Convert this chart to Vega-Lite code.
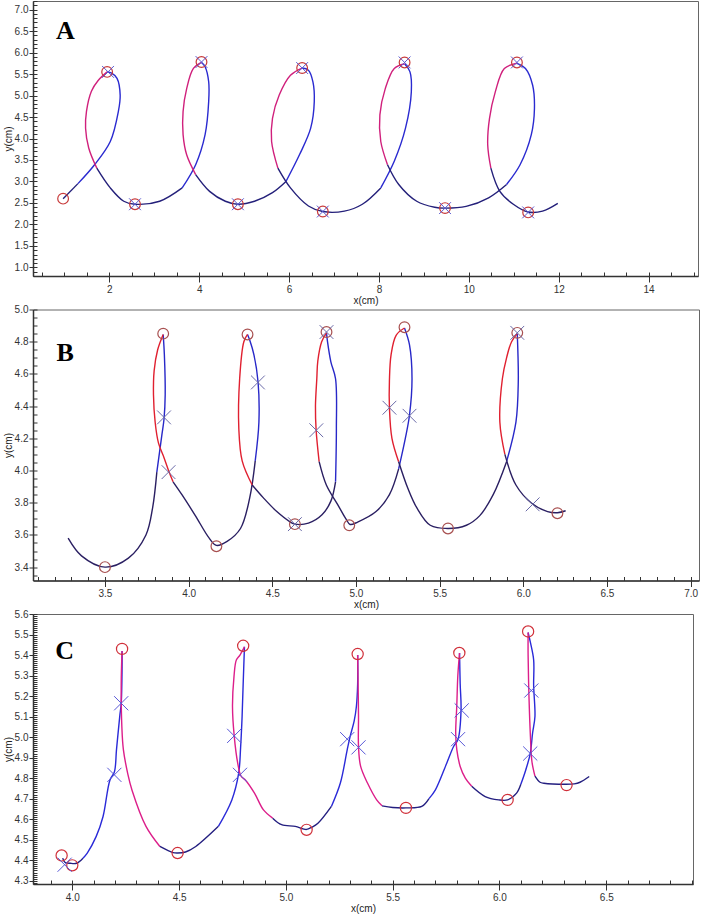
{
"$schema": "https://vega.github.io/schema/vega-lite/v6.json",
"background": "white",
"padding": {"left": 2, "top": 0, "right": 5, "bottom": 2},
"bounds": "flush",
"spacing": 33.5,
"resolve": {"scale": {"color": "independent"}},
"config": {
 "view": {"stroke": "#666", "strokeWidth": 1},
 "axis": {"labelFont": "Liberation Sans", "labelFontSize": 10, "labelColor": "#333", "titleFont": "Liberation Sans", "titleFontSize": 10, "titleFontWeight": "normal", "titleColor": "#222", "domainColor": "#333", "domainWidth": 1.5, "tickColor": "#333", "tickWidth": 1, "grid": false, "labelOverlap": false, "labelBound": false, "labelFlush": false}
},
"datasets": {
 "a_line": [
  {"s":1,"c":"low","o":1,"x":0.97,"y":2.6},{"s":1,"c":"low","o":2,"x":1.3,"y":2.95},
  {"s":2,"c":"up","o":2,"x":1.3,"y":2.95},{"s":2,"c":"up","o":3,"x":1.67,"y":3.39},{"s":2,"c":"up","o":4,"x":2.02,"y":3.93},{"s":2,"c":"up","o":5,"x":2.2,"y":4.63},{"s":2,"c":"up","o":6,"x":2.24,"y":5.01},{"s":2,"c":"up","o":7,"x":2.17,"y":5.4},{"s":2,"c":"up","o":8,"x":2.05,"y":5.52},{"s":2,"c":"up","o":9,"x":1.95,"y":5.55},
  {"s":3,"c":"down","o":9,"x":1.95,"y":5.55},{"s":3,"c":"down","o":10,"x":1.75,"y":5.35},{"s":3,"c":"down","o":11,"x":1.6,"y":5.1},{"s":3,"c":"down","o":12,"x":1.49,"y":4.63},{"s":3,"c":"down","o":13,"x":1.47,"y":4.24},{"s":3,"c":"down","o":14,"x":1.54,"y":3.78},{"s":3,"c":"down","o":15,"x":1.72,"y":3.31},
  {"s":4,"c":"low","o":15,"x":1.72,"y":3.31},{"s":4,"c":"low","o":16,"x":2.02,"y":2.85},{"s":4,"c":"low","o":17,"x":2.32,"y":2.54},{"s":4,"c":"low","o":18,"x":2.57,"y":2.47},{"s":4,"c":"low","o":19,"x":3.12,"y":2.54},{"s":4,"c":"low","o":20,"x":3.62,"y":2.85},
  {"s":5,"c":"up","o":20,"x":3.62,"y":2.85},{"s":5,"c":"up","o":21,"x":3.92,"y":3.39},{"s":5,"c":"up","o":22,"x":4.13,"y":4.09},{"s":5,"c":"up","o":23,"x":4.21,"y":4.86},{"s":5,"c":"up","o":24,"x":4.21,"y":5.32},{"s":5,"c":"up","o":25,"x":4.13,"y":5.67},{"s":5,"c":"up","o":26,"x":4.05,"y":5.77},
  {"s":6,"c":"down","o":26,"x":4.05,"y":5.77},{"s":6,"c":"down","o":27,"x":3.87,"y":5.63},{"s":6,"c":"down","o":28,"x":3.72,"y":5.16},{"s":6,"c":"down","o":29,"x":3.64,"y":4.63},{"s":6,"c":"down","o":30,"x":3.64,"y":4.09},{"s":6,"c":"down","o":31,"x":3.72,"y":3.62},{"s":6,"c":"down","o":32,"x":3.92,"y":3.16},
  {"s":7,"c":"low","o":32,"x":3.92,"y":3.16},{"s":7,"c":"low","o":33,"x":4.23,"y":2.77},{"s":7,"c":"low","o":34,"x":4.58,"y":2.54},{"s":7,"c":"low","o":35,"x":4.86,"y":2.47},{"s":7,"c":"low","o":36,"x":5.23,"y":2.54},{"s":7,"c":"low","o":37,"x":5.63,"y":2.74},{"s":7,"c":"low","o":38,"x":5.93,"y":3.0},
  {"s":8,"c":"up","o":38,"x":5.93,"y":3.0},{"s":8,"c":"up","o":39,"x":6.23,"y":3.62},{"s":8,"c":"up","o":40,"x":6.48,"y":4.24},{"s":8,"c":"up","o":41,"x":6.56,"y":4.86},{"s":8,"c":"up","o":42,"x":6.53,"y":5.32},{"s":8,"c":"up","o":43,"x":6.43,"y":5.59},{"s":8,"c":"up","o":44,"x":6.29,"y":5.64},
  {"s":9,"c":"down","o":44,"x":6.29,"y":5.64},{"s":9,"c":"down","o":45,"x":6.03,"y":5.47},{"s":9,"c":"down","o":46,"x":5.78,"y":5.01},{"s":9,"c":"down","o":47,"x":5.63,"y":4.47},{"s":9,"c":"down","o":48,"x":5.61,"y":3.93},{"s":9,"c":"down","o":49,"x":5.75,"y":3.31},
  {"s":10,"c":"low","o":49,"x":5.75,"y":3.31},{"s":10,"c":"low","o":50,"x":6.03,"y":2.85},{"s":10,"c":"low","o":51,"x":6.43,"y":2.43},{"s":10,"c":"low","o":52,"x":6.75,"y":2.3},{"s":10,"c":"low","o":53,"x":7.23,"y":2.31},{"s":10,"c":"low","o":54,"x":7.63,"y":2.47},{"s":10,"c":"low","o":55,"x":8.04,"y":2.85},
  {"s":11,"c":"up","o":55,"x":8.04,"y":2.85},{"s":11,"c":"up","o":56,"x":8.34,"y":3.47},{"s":11,"c":"up","o":57,"x":8.59,"y":4.24},{"s":11,"c":"up","o":58,"x":8.72,"y":5.09},{"s":11,"c":"up","o":59,"x":8.69,"y":5.55},{"s":11,"c":"up","o":60,"x":8.57,"y":5.74},
  {"s":12,"c":"down","o":60,"x":8.57,"y":5.74},{"s":12,"c":"down","o":61,"x":8.34,"y":5.63},{"s":12,"c":"down","o":62,"x":8.14,"y":5.16},{"s":12,"c":"down","o":63,"x":8.02,"y":4.55},{"s":12,"c":"down","o":64,"x":8.04,"y":3.93},{"s":12,"c":"down","o":65,"x":8.19,"y":3.39},
  {"s":13,"c":"low","o":65,"x":8.19,"y":3.39},{"s":13,"c":"low","o":66,"x":8.44,"y":2.93},{"s":13,"c":"low","o":67,"x":8.84,"y":2.54},{"s":13,"c":"low","o":68,"x":9.24,"y":2.4},{"s":13,"c":"low","o":69,"x":9.47,"y":2.38},{"s":13,"c":"low","o":70,"x":9.94,"y":2.42},{"s":13,"c":"low","o":71,"x":10.44,"y":2.62},{"s":13,"c":"low","o":72,"x":10.84,"y":2.93},
  {"s":14,"c":"up","o":72,"x":10.84,"y":2.93},{"s":14,"c":"up","o":73,"x":11.14,"y":3.39},{"s":14,"c":"up","o":74,"x":11.39,"y":4.09},{"s":14,"c":"up","o":75,"x":11.46,"y":4.7},{"s":14,"c":"up","o":76,"x":11.42,"y":5.24},{"s":14,"c":"up","o":77,"x":11.26,"y":5.63},{"s":14,"c":"up","o":78,"x":11.07,"y":5.75},
  {"s":15,"c":"down","o":78,"x":11.07,"y":5.75},{"s":15,"c":"down","o":79,"x":10.79,"y":5.63},{"s":15,"c":"down","o":80,"x":10.59,"y":5.09},{"s":15,"c":"down","o":81,"x":10.46,"y":4.47},{"s":15,"c":"down","o":82,"x":10.42,"y":3.85},{"s":15,"c":"down","o":83,"x":10.49,"y":3.31},
  {"s":16,"c":"low","o":83,"x":10.49,"y":3.31},{"s":16,"c":"low","o":84,"x":10.69,"y":2.77},{"s":16,"c":"low","o":85,"x":10.99,"y":2.47},{"s":16,"c":"low","o":86,"x":11.32,"y":2.29},{"s":16,"c":"low","o":87,"x":11.64,"y":2.31},{"s":16,"c":"low","o":88,"x":11.98,"y":2.49}
 ],
 "a_circ": [{"x":0.97,"y":2.6},{"x":1.95,"y":5.55},{"x":2.57,"y":2.47},{"x":4.05,"y":5.78},{"x":4.86,"y":2.47},{"x":6.29,"y":5.64},{"x":6.75,"y":2.3},{"x":8.57,"y":5.77},{"x":9.47,"y":2.38},{"x":11.07,"y":5.77},{"x":11.32,"y":2.28}],
 "a_x": [{"x":1.97,"y":5.55},{"x":2.57,"y":2.47},{"x":4.05,"y":5.78},{"x":4.86,"y":2.47},{"x":6.29,"y":5.64},{"x":6.75,"y":2.3},{"x":8.57,"y":5.77},{"x":9.47,"y":2.38},{"x":11.07,"y":5.77},{"x":11.32,"y":2.28}],
 "a_lab": [{"t":"A","x":1.02,"y":6.5}],
 "b_line": [
  {"s":1,"c":"low","o":1,"x":3.28,"y":3.58},{"s":1,"c":"low","o":2,"x":3.36,"y":3.47},{"s":1,"c":"low","o":3,"x":3.5,"y":3.4},{"s":1,"c":"low","o":4,"x":3.64,"y":3.456},{"s":1,"c":"low","o":5,"x":3.745,"y":3.6},{"s":1,"c":"low","o":6,"x":3.785,"y":3.77},{"s":1,"c":"low","o":7,"x":3.81,"y":3.99},
  {"s":2,"c":"up","o":7,"x":3.81,"y":3.99},{"s":2,"c":"up","o":8,"x":3.84,"y":4.22},{"s":2,"c":"up","o":9,"x":3.853,"y":4.32},{"s":2,"c":"up","o":10,"x":3.86,"y":4.47},{"s":2,"c":"up","o":11,"x":3.855,"y":4.72},{"s":2,"c":"up","o":12,"x":3.848,"y":4.845},
  {"s":3,"c":"down","o":12,"x":3.848,"y":4.845},{"s":3,"c":"down","o":13,"x":3.815,"y":4.75},{"s":3,"c":"down","o":14,"x":3.794,"y":4.62},{"s":3,"c":"down","o":15,"x":3.79,"y":4.47},{"s":3,"c":"down","o":16,"x":3.8,"y":4.3},{"s":3,"c":"down","o":17,"x":3.82,"y":4.17},{"s":3,"c":"down","o":18,"x":3.853,"y":4.08},{"s":3,"c":"down","o":19,"x":3.88,"y":4.0},{"s":3,"c":"down","o":20,"x":3.907,"y":3.93},
  {"s":4,"c":"low","o":20,"x":3.907,"y":3.93},{"s":4,"c":"low","o":21,"x":3.96,"y":3.85},{"s":4,"c":"low","o":22,"x":4.04,"y":3.72},{"s":4,"c":"low","o":23,"x":4.123,"y":3.58},{"s":4,"c":"low","o":24,"x":4.166,"y":3.535},{"s":4,"c":"low","o":25,"x":4.23,"y":3.56},{"s":4,"c":"low","o":26,"x":4.31,"y":3.64},{"s":4,"c":"low","o":27,"x":4.365,"y":3.83},{"s":4,"c":"low","o":28,"x":4.398,"y":4.06},
  {"s":5,"c":"up","o":28,"x":4.398,"y":4.06},{"s":5,"c":"up","o":29,"x":4.42,"y":4.3},{"s":5,"c":"up","o":30,"x":4.415,"y":4.55},{"s":5,"c":"up","o":31,"x":4.39,"y":4.72},{"s":5,"c":"up","o":32,"x":4.365,"y":4.81},{"s":5,"c":"up","o":33,"x":4.352,"y":4.845},
  {"s":6,"c":"down","o":33,"x":4.352,"y":4.845},{"s":6,"c":"down","o":34,"x":4.33,"y":4.8},{"s":6,"c":"down","o":35,"x":4.305,"y":4.57},{"s":6,"c":"down","o":36,"x":4.3,"y":4.26},{"s":6,"c":"down","o":37,"x":4.32,"y":4.06},{"s":6,"c":"down","o":38,"x":4.38,"y":3.91},
  {"s":7,"c":"low","o":38,"x":4.38,"y":3.91},{"s":7,"c":"low","o":39,"x":4.447,"y":3.83},{"s":7,"c":"low","o":40,"x":4.527,"y":3.745},{"s":7,"c":"low","o":41,"x":4.608,"y":3.68},{"s":7,"c":"low","o":42,"x":4.635,"y":3.667},{"s":7,"c":"low","o":43,"x":4.716,"y":3.673},{"s":7,"c":"low","o":44,"x":4.797,"y":3.725},{"s":7,"c":"low","o":45,"x":4.85,"y":3.81},{"s":7,"c":"low","o":46,"x":4.878,"y":3.93},
  {"s":8,"c":"up","o":46,"x":4.878,"y":3.93},{"s":8,"c":"up","o":47,"x":4.883,"y":4.26},{"s":8,"c":"up","o":48,"x":4.878,"y":4.57},{"s":8,"c":"up","o":49,"x":4.85,"y":4.675},{"s":8,"c":"up","o":50,"x":4.83,"y":4.8},{"s":8,"c":"up","o":51,"x":4.824,"y":4.855},
  {"s":9,"c":"down","o":51,"x":4.824,"y":4.855},{"s":9,"c":"down","o":52,"x":4.795,"y":4.8},{"s":9,"c":"down","o":53,"x":4.772,"y":4.68},{"s":9,"c":"down","o":54,"x":4.766,"y":4.57},{"s":9,"c":"down","o":55,"x":4.758,"y":4.4},{"s":9,"c":"down","o":56,"x":4.762,"y":4.25},{"s":9,"c":"down","o":57,"x":4.78,"y":4.055},
  {"s":10,"c":"low","o":57,"x":4.78,"y":4.055},{"s":10,"c":"low","o":58,"x":4.823,"y":3.91},{"s":10,"c":"low","o":59,"x":4.89,"y":3.79},{"s":10,"c":"low","o":60,"x":4.94,"y":3.7},{"s":10,"c":"low","o":61,"x":4.965,"y":3.665},{"s":10,"c":"low","o":62,"x":5.01,"y":3.68},{"s":10,"c":"low","o":63,"x":5.12,"y":3.745},{"s":10,"c":"low","o":64,"x":5.2,"y":3.85},{"s":10,"c":"low","o":65,"x":5.255,"y":4.01},
  {"s":11,"c":"up","o":65,"x":5.255,"y":4.01},{"s":11,"c":"up","o":66,"x":5.295,"y":4.2},{"s":11,"c":"up","o":67,"x":5.32,"y":4.345},{"s":11,"c":"up","o":68,"x":5.335,"y":4.57},{"s":11,"c":"up","o":69,"x":5.32,"y":4.78},{"s":11,"c":"up","o":70,"x":5.29,"y":4.885},
  {"s":12,"c":"down","o":70,"x":5.29,"y":4.885},{"s":12,"c":"down","o":71,"x":5.24,"y":4.84},{"s":12,"c":"down","o":72,"x":5.21,"y":4.72},{"s":12,"c":"down","o":73,"x":5.2,"y":4.56},{"s":12,"c":"down","o":74,"x":5.2,"y":4.39},{"s":12,"c":"down","o":75,"x":5.215,"y":4.2},{"s":12,"c":"down","o":76,"x":5.255,"y":4.055},
  {"s":13,"c":"low","o":76,"x":5.255,"y":4.055},{"s":13,"c":"low","o":77,"x":5.31,"y":3.89},{"s":13,"c":"low","o":78,"x":5.365,"y":3.766},{"s":13,"c":"low","o":79,"x":5.444,"y":3.66},{"s":13,"c":"low","o":80,"x":5.55,"y":3.64},{"s":13,"c":"low","o":81,"x":5.66,"y":3.66},{"s":13,"c":"low","o":82,"x":5.74,"y":3.72},{"s":13,"c":"low","o":83,"x":5.82,"y":3.85},{"s":13,"c":"low","o":84,"x":5.9,"y":4.055},
  {"s":14,"c":"up","o":84,"x":5.9,"y":4.055},{"s":14,"c":"up","o":85,"x":5.956,"y":4.3},{"s":14,"c":"up","o":86,"x":5.97,"y":4.55},{"s":14,"c":"up","o":87,"x":5.964,"y":4.85},
  {"s":15,"c":"down","o":87,"x":5.964,"y":4.85},{"s":15,"c":"down","o":88,"x":5.93,"y":4.8},{"s":15,"c":"down","o":89,"x":5.9,"y":4.7},{"s":15,"c":"down","o":90,"x":5.875,"y":4.57},{"s":15,"c":"down","o":91,"x":5.86,"y":4.3},{"s":15,"c":"down","o":92,"x":5.89,"y":4.1},
  {"s":16,"c":"low","o":92,"x":5.89,"y":4.1},{"s":16,"c":"low","o":93,"x":5.956,"y":3.91},{"s":16,"c":"low","o":94,"x":6.05,"y":3.797},{"s":16,"c":"low","o":95,"x":6.145,"y":3.745},{"s":16,"c":"low","o":96,"x":6.204,"y":3.738},{"s":16,"c":"low","o":97,"x":6.253,"y":3.75}
 ],
 "b_circ": [{"x":3.5,"y":3.4},{"x":3.848,"y":4.85},{"x":4.166,"y":3.53},{"x":4.352,"y":4.845},{"x":4.635,"y":3.667},{"x":4.824,"y":4.86},{"x":4.96,"y":3.66},{"x":5.29,"y":4.89},{"x":5.55,"y":3.64},{"x":5.964,"y":4.855},{"x":6.204,"y":3.735}],
 "b_x": [{"x":3.853,"y":4.33},{"x":3.88,"y":3.99},{"x":4.414,"y":4.547},{"x":4.635,"y":3.667},{"x":4.824,"y":4.86},{"x":4.763,"y":4.25},{"x":5.2,"y":4.39},{"x":5.32,"y":4.34},{"x":5.964,"y":4.855},{"x":6.056,"y":3.79}],
 "b_lab": [{"t":"B","x":3.263,"y":4.73}],
 "c_line": [
  {"s":1,"c":"low","o":1,"x":3.955,"y":4.41},{"s":1,"c":"low","o":2,"x":3.965,"y":4.39},{"s":1,"c":"low","o":3,"x":3.99,"y":4.385},{"s":1,"c":"low","o":4,"x":4.02,"y":4.385},{"s":1,"c":"low","o":5,"x":4.05,"y":4.41},
  {"s":2,"c":"up","o":5,"x":4.05,"y":4.41},{"s":2,"c":"up","o":6,"x":4.07,"y":4.435},{"s":2,"c":"up","o":7,"x":4.112,"y":4.516},{"s":2,"c":"up","o":8,"x":4.144,"y":4.613},{"s":2,"c":"up","o":9,"x":4.176,"y":4.79},{"s":2,"c":"up","o":10,"x":4.197,"y":4.83},{"s":2,"c":"up","o":11,"x":4.207,"y":4.94},{"s":2,"c":"up","o":12,"x":4.222,"y":5.1},{"s":2,"c":"up","o":13,"x":4.229,"y":5.165},{"s":2,"c":"up","o":14,"x":4.233,"y":5.344},{"s":2,"c":"up","o":15,"x":4.233,"y":5.42},
  {"s":3,"c":"down","o":15,"x":4.233,"y":5.42},{"s":3,"c":"down","o":16,"x":4.229,"y":5.26},{"s":3,"c":"down","o":17,"x":4.232,"y":5.05},{"s":3,"c":"down","o":18,"x":4.239,"y":4.94},{"s":3,"c":"down","o":19,"x":4.26,"y":4.82},{"s":3,"c":"down","o":20,"x":4.28,"y":4.74},{"s":3,"c":"down","o":21,"x":4.345,"y":4.565},{"s":3,"c":"down","o":22,"x":4.41,"y":4.467},
  {"s":4,"c":"low","o":22,"x":4.41,"y":4.467},{"s":4,"c":"low","o":23,"x":4.472,"y":4.437},{"s":4,"c":"low","o":24,"x":4.493,"y":4.435},{"s":4,"c":"low","o":25,"x":4.53,"y":4.44},{"s":4,"c":"low","o":26,"x":4.578,"y":4.467},{"s":4,"c":"low","o":27,"x":4.684,"y":4.565},
  {"s":5,"c":"up","o":27,"x":4.684,"y":4.565},{"s":5,"c":"up","o":28,"x":4.747,"y":4.694},{"s":5,"c":"up","o":29,"x":4.779,"y":4.824},{"s":5,"c":"up","o":30,"x":4.788,"y":4.95},{"s":5,"c":"up","o":31,"x":4.795,"y":5.1},{"s":5,"c":"up","o":32,"x":4.8,"y":5.26},{"s":5,"c":"up","o":33,"x":4.806,"y":5.44},
  {"s":6,"c":"down","o":33,"x":4.806,"y":5.44},{"s":6,"c":"down","o":34,"x":4.785,"y":5.4},{"s":6,"c":"down","o":35,"x":4.768,"y":5.376},{"s":6,"c":"down","o":36,"x":4.757,"y":5.295},{"s":6,"c":"down","o":37,"x":4.75,"y":5.149},{"s":6,"c":"down","o":38,"x":4.758,"y":5.006},{"s":6,"c":"down","o":39,"x":4.775,"y":4.87},{"s":6,"c":"down","o":40,"x":4.79,"y":4.81},{"s":6,"c":"down","o":41,"x":4.811,"y":4.79},{"s":6,"c":"down","o":42,"x":4.853,"y":4.727},{"s":6,"c":"down","o":43,"x":4.895,"y":4.645},{"s":6,"c":"down","o":44,"x":4.938,"y":4.605},
  {"s":7,"c":"low","o":44,"x":4.938,"y":4.605},{"s":7,"c":"low","o":45,"x":4.98,"y":4.573},{"s":7,"c":"low","o":46,"x":5.044,"y":4.565},{"s":7,"c":"low","o":47,"x":5.08,"y":4.553},{"s":7,"c":"low","o":48,"x":5.097,"y":4.55},{"s":7,"c":"low","o":49,"x":5.12,"y":4.56},{"s":7,"c":"low","o":50,"x":5.15,"y":4.58},{"s":7,"c":"low","o":51,"x":5.213,"y":4.662},
  {"s":8,"c":"up","o":51,"x":5.213,"y":4.662},{"s":8,"c":"up","o":52,"x":5.255,"y":4.776},{"s":8,"c":"up","o":53,"x":5.287,"y":4.938},{"s":8,"c":"up","o":54,"x":5.3,"y":5.0},{"s":8,"c":"up","o":55,"x":5.32,"y":5.08},{"s":8,"c":"up","o":56,"x":5.33,"y":5.149},{"s":8,"c":"up","o":57,"x":5.336,"y":5.26},{"s":8,"c":"up","o":58,"x":5.336,"y":5.4},
  {"s":9,"c":"down","o":58,"x":5.336,"y":5.4},{"s":9,"c":"down","o":59,"x":5.338,"y":5.26},{"s":9,"c":"down","o":60,"x":5.34,"y":5.1},{"s":9,"c":"down","o":61,"x":5.34,"y":4.954},{"s":9,"c":"down","o":62,"x":5.35,"y":4.857},{"s":9,"c":"down","o":63,"x":5.382,"y":4.776},{"s":9,"c":"down","o":64,"x":5.425,"y":4.694},{"s":9,"c":"down","o":65,"x":5.45,"y":4.665},
  {"s":10,"c":"low","o":65,"x":5.45,"y":4.665},{"s":10,"c":"low","o":66,"x":5.5,"y":4.657},{"s":10,"c":"low","o":67,"x":5.562,"y":4.655},{"s":10,"c":"low","o":68,"x":5.636,"y":4.662},{"s":10,"c":"low","o":69,"x":5.67,"y":4.7},
  {"s":11,"c":"up","o":69,"x":5.67,"y":4.7},{"s":11,"c":"up","o":70,"x":5.7,"y":4.743},{"s":11,"c":"up","o":71,"x":5.753,"y":4.873},{"s":11,"c":"up","o":72,"x":5.785,"y":4.954},{"s":11,"c":"up","o":73,"x":5.806,"y":4.99},{"s":11,"c":"up","o":74,"x":5.82,"y":5.13},{"s":11,"c":"up","o":75,"x":5.816,"y":5.26},{"s":11,"c":"up","o":76,"x":5.813,"y":5.41},
  {"s":12,"c":"down","o":76,"x":5.813,"y":5.41},{"s":12,"c":"down","o":77,"x":5.805,"y":5.3},{"s":12,"c":"down","o":78,"x":5.8,"y":5.15},{"s":12,"c":"down","o":79,"x":5.795,"y":5.02},{"s":12,"c":"down","o":80,"x":5.8,"y":4.94},{"s":12,"c":"down","o":81,"x":5.816,"y":4.857},{"s":12,"c":"down","o":82,"x":5.84,"y":4.8},{"s":12,"c":"down","o":83,"x":5.87,"y":4.76},
  {"s":13,"c":"low","o":83,"x":5.87,"y":4.76},{"s":13,"c":"low","o":84,"x":5.933,"y":4.71},{"s":13,"c":"low","o":85,"x":5.996,"y":4.694},{"s":13,"c":"low","o":86,"x":6.038,"y":4.694},{"s":13,"c":"low","o":87,"x":6.08,"y":4.727},{"s":13,"c":"low","o":88,"x":6.1,"y":4.77},
  {"s":14,"c":"up","o":88,"x":6.1,"y":4.77},{"s":14,"c":"up","o":89,"x":6.123,"y":4.84},{"s":14,"c":"up","o":90,"x":6.144,"y":4.92},{"s":14,"c":"up","o":91,"x":6.155,"y":5.02},{"s":14,"c":"up","o":92,"x":6.166,"y":5.1},{"s":14,"c":"up","o":93,"x":6.16,"y":5.25},{"s":14,"c":"up","o":94,"x":6.16,"y":5.376},{"s":14,"c":"up","o":95,"x":6.145,"y":5.46},{"s":14,"c":"up","o":96,"x":6.134,"y":5.51},
  {"s":15,"c":"down","o":96,"x":6.134,"y":5.51},{"s":15,"c":"down","o":97,"x":6.134,"y":5.4},{"s":15,"c":"down","o":98,"x":6.138,"y":5.2},{"s":15,"c":"down","o":99,"x":6.145,"y":5.0},{"s":15,"c":"down","o":100,"x":6.152,"y":4.88},{"s":15,"c":"down","o":101,"x":6.166,"y":4.81},
  {"s":16,"c":"low","o":101,"x":6.166,"y":4.81},{"s":16,"c":"low","o":102,"x":6.19,"y":4.78},{"s":16,"c":"low","o":103,"x":6.208,"y":4.775},{"s":16,"c":"low","o":104,"x":6.31,"y":4.77},{"s":16,"c":"low","o":105,"x":6.35,"y":4.772},{"s":16,"c":"low","o":106,"x":6.377,"y":4.78},{"s":16,"c":"low","o":107,"x":6.42,"y":4.808}
 ],
 "c_circ": [{"x":3.95,"y":4.423},{"x":4.0,"y":4.375},{"x":4.233,"y":5.43},{"x":4.493,"y":4.435},{"x":4.8,"y":5.445},{"x":5.097,"y":4.548},{"x":5.336,"y":5.405},{"x":5.562,"y":4.655},{"x":5.812,"y":5.41},{"x":6.038,"y":4.694},{"x":6.134,"y":5.515},{"x":6.314,"y":4.766}],
 "c_x": [{"x":3.964,"y":4.378},{"x":4.197,"y":4.816},{"x":4.229,"y":5.165},{"x":4.758,"y":5.006},{"x":4.785,"y":4.816},{"x":5.287,"y":4.99},{"x":5.34,"y":4.95},{"x":5.806,"y":4.99},{"x":5.823,"y":5.13},{"x":6.149,"y":5.227},{"x":6.144,"y":4.92}],
 "c_lab": [{"t":"C","x":3.964,"y":5.42}]
},
"vconcat": [
 {
  "width": 665, "height": 275,
  "resolve": {"axis": {"x": "independent", "y": "independent"}},
  "layer": [
   {"data": {"name": "a_line"}, "mark": {"type": "line", "interpolate": "catmull-rom", "strokeWidth": 1.4},
    "encoding": {
     "x": {"field": "x", "type": "quantitative", "scale": {"domain": [0.3, 15.1], "nice": false, "zero": false}, "axis": {"orient": "bottom", "values": [2,4,6,8,10,12,14], "format": "d", "tickSize": 6, "labelPadding": 2, "title": "x(cm)", "titlePadding": 1}},
     "y": {"field": "y", "type": "quantitative", "scale": {"domain": [0.8, 7.2], "nice": false, "zero": false}, "axis": {"orient": "left", "values": [1,1.5,2,2.5,3,3.5,4,4.5,5,5.5,6,6.5,7], "format": ".1f", "tickSize": 4, "labelPadding": 1, "title": "y(cm)", "titleX": -25, "titleBaseline": "middle"}},
     "detail": {"field": "s"},
     "order": {"field": "o", "type": "quantitative"},
     "color": {"field": "c", "type": "nominal", "scale": {"domain": ["up","down","low"], "range": ["#2a2ad0","#d0207c","#24207a"]}, "legend": null}
    }},
   {"data": {"name": "a_circ"}, "mark": {"type": "point", "shape": "circle", "filled": false, "size": 115, "strokeWidth": 1.2, "color": "#c83a3a", "opacity": 1},
    "encoding": {
     "x": {"field": "x", "type": "quantitative", "axis": {"orient": "bottom", "offset": -4, "tickCount": 30, "tickSize": 4, "labels": false, "domain": false, "title": null}},
     "y": {"field": "y", "type": "quantitative", "axis": {"orient": "left", "offset": -4, "tickCount": 64, "tickSize": 4, "labels": false, "domain": false, "title": null}}
    }},
   {"data": {"name": "a_x"}, "mark": {"type": "point", "shape": "M-1,-1L1,1M-1,1L1,-1", "filled": false, "size": 140, "strokeWidth": 1, "color": "#5a5ad0", "opacity": 1},
    "encoding": {
     "x": {"field": "x", "type": "quantitative", "axis": null},
     "y": {"field": "y", "type": "quantitative", "axis": null}
    }},
   {"data": {"name": "a_lab"}, "mark": {"type": "text", "font": "Liberation Serif", "fontWeight": "bold", "fontSize": 26, "color": "#000", "baseline": "middle", "align": "center"},
    "encoding": {
     "x": {"field": "x", "type": "quantitative", "axis": null},
     "y": {"field": "y", "type": "quantitative", "axis": null},
     "text": {"field": "t"}
    }}
  ]
 },
 {
  "width": 666, "height": 271,
  "resolve": {"axis": {"x": "independent", "y": "independent"}},
  "layer": [
   {"data": {"name": "b_line"}, "mark": {"type": "line", "interpolate": "catmull-rom", "strokeWidth": 1.4},
    "encoding": {
     "x": {"field": "x", "type": "quantitative", "scale": {"domain": [3.07, 7.05], "nice": false, "zero": false}, "axis": {"orient": "bottom", "values": [3.5,4,4.5,5,5.5,6,6.5,7], "format": ".1f", "tickSize": 6, "labelPadding": 2, "title": "x(cm)", "titlePadding": 1}},
     "y": {"field": "y", "type": "quantitative", "scale": {"domain": [3.317, 5.0], "nice": false, "zero": false}, "axis": {"orient": "left", "values": [3.4,3.6,3.8,4.0,4.2,4.4,4.6,4.8,5.0], "format": ".1f", "tickSize": 4, "labelPadding": 1, "title": "y(cm)", "titleX": -25, "titleBaseline": "middle"}},
     "detail": {"field": "s"},
     "order": {"field": "o", "type": "quantitative"},
     "color": {"field": "c", "type": "nominal", "scale": {"domain": ["up","down","low"], "range": ["#2828c8","#e02030","#2a1f62"]}, "legend": null}
    }},
   {"data": {"name": "b_circ"}, "mark": {"type": "point", "shape": "circle", "filled": false, "size": 115, "strokeWidth": 1.2, "color": "#a85050", "opacity": 1},
    "encoding": {
     "x": {"field": "x", "type": "quantitative", "axis": {"orient": "bottom", "offset": -4, "tickCount": 40, "tickSize": 4, "labels": false, "domain": false, "title": null}},
     "y": {"field": "y", "type": "quantitative", "axis": {"orient": "left", "offset": -4, "tickCount": 34, "tickSize": 4, "labels": false, "domain": false, "title": null}}
    }},
   {"data": {"name": "b_x"}, "mark": {"type": "point", "shape": "M-1,-1L1,1M-1,1L1,-1", "filled": false, "size": 190, "strokeWidth": 1, "color": "#6a6aa8", "opacity": 1},
    "encoding": {
     "x": {"field": "x", "type": "quantitative", "axis": null},
     "y": {"field": "y", "type": "quantitative", "axis": null}
    }},
   {"data": {"name": "b_lab"}, "mark": {"type": "text", "font": "Liberation Serif", "fontWeight": "bold", "fontSize": 26, "color": "#000", "baseline": "middle", "align": "center"},
    "encoding": {
     "x": {"field": "x", "type": "quantitative", "axis": null},
     "y": {"field": "y", "type": "quantitative", "axis": null},
     "text": {"field": "t"}
    }}
  ]
 },
 {
  "width": 660, "height": 270,
  "resolve": {"axis": {"x": "independent", "y": "independent"}},
  "layer": [
   {"data": {"name": "c_line"}, "mark": {"type": "line", "interpolate": "catmull-rom", "strokeWidth": 1.4},
    "encoding": {
     "x": {"field": "x", "type": "quantitative", "scale": {"domain": [3.816, 6.906], "nice": false, "zero": false}, "axis": {"orient": "bottom", "values": [4,4.5,5,5.5,6,6.5], "format": ".1f", "tickSize": 6, "labelPadding": 2, "title": "x(cm)", "titlePadding": 1}},
     "y": {"field": "y", "type": "quantitative", "scale": {"domain": [4.284, 5.6], "nice": false, "zero": false}, "axis": {"orient": "left", "values": [4.3,4.4,4.5,4.6,4.7,4.8,4.9,5.0,5.1,5.2,5.3,5.4,5.5,5.6], "format": ".1f", "tickSize": 4, "labelPadding": 1, "title": "y(cm)", "titleX": -25, "titleBaseline": "middle"}},
     "detail": {"field": "s"},
     "order": {"field": "o", "type": "quantitative"},
     "color": {"field": "c", "type": "nominal", "scale": {"domain": ["up","down","low"], "range": ["#2a2ad8","#dc1e8a","#241f80"]}, "legend": null}
    }},
   {"data": {"name": "c_circ"}, "mark": {"type": "point", "shape": "circle", "filled": false, "size": 125, "strokeWidth": 1.2, "color": "#d0303a", "opacity": 1},
    "encoding": {
     "x": {"field": "x", "type": "quantitative", "axis": {"orient": "bottom", "offset": -4, "tickCount": 31, "tickSize": 4, "labels": false, "domain": false, "title": null}},
     "y": {"field": "y", "type": "quantitative", "axis": {"orient": "left", "offset": -4, "tickCount": 130, "tickSize": 4, "labels": false, "domain": false, "title": null}}
    }},
   {"data": {"name": "c_x"}, "mark": {"type": "point", "shape": "M-1,-1L1,1M-1,1L1,-1", "filled": false, "size": 200, "strokeWidth": 1, "color": "#5858d8", "opacity": 1},
    "encoding": {
     "x": {"field": "x", "type": "quantitative", "axis": null},
     "y": {"field": "y", "type": "quantitative", "axis": null}
    }},
   {"data": {"name": "c_lab"}, "mark": {"type": "text", "font": "Liberation Serif", "fontWeight": "bold", "fontSize": 26, "color": "#000", "baseline": "middle", "align": "center"},
    "encoding": {
     "x": {"field": "x", "type": "quantitative", "axis": null},
     "y": {"field": "y", "type": "quantitative", "axis": null},
     "text": {"field": "t"}
    }}
  ]
 }
]
}
